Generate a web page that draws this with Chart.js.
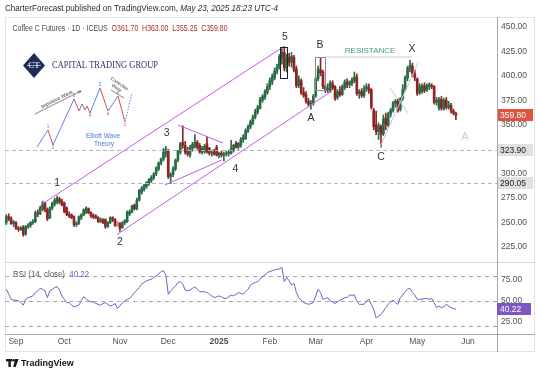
<!DOCTYPE html>
<html><head><meta charset="utf-8">
<script src="https://cdn.jsdelivr.net/npm/chart.js@4.4.1/dist/chart.umd.min.js"></script>
<style>
html,body{margin:0;padding:0;background:#fff;width:540px;height:373px;overflow:hidden}
#wrap{position:relative;width:540px;height:373px}
canvas{position:absolute;left:0;top:0}
</style></head><body>
<div id="wrap">
<canvas id="bg" width="540" height="373"></canvas>
<canvas id="price" width="540" height="373"></canvas>
<canvas id="rsi" width="540" height="373"></canvas>
</div>
<script>
// ---------- DATA (daily bars, index 0 = 3 Sep 2024) ----------
const firstIndex = -4;
const opens = [
250,256,254,249,250,244,243,245,238,246,
247,250,251,260,259,264,270,263,255,265,
269,271,274,272,270,265,258,258,256,248,
249,255,258,261,264,260,257,257,255,251,
253,253,246,250,255,253,250,249,245,250,
251,259,261,268,264,273,281,284,287,290,
293,296,300,305,311,315,321,324,297,299,
305,314,322,332,329,323,319,326,328,332,
329,322,323,331,326,321,322,327,319,321,
319,320,321,321,324,331,327,329,335,336,
344,348,352,358,363,367,375,378,383,389,
394,398,405,409,418,424,408,419,414,419,
407,391,395,383,381,374,371,372,380,397,
406,404,389,386,385,392,389,378,384,381,
388,393,391,392,395,399,382,384,380,387,
388,386,365,350,343,348,341,357,350,361,
365,372,375,366,377,386,398,408,410,402,
397,383,384,390,386,389,390,389,373,367,
376,367,375,368,370,364,361.70];
const highs = [
258,259,256,252,251,246,246,247,247,249,
251,253,262,263,267,272,271,265,266,271,
275,277,276,274,271,266,261,259,257,251,
257,259,264,266,265,261,259,258,256,255,
254,254,251,256,256,254,251,250,251,253,
262,263,268,269,275,284,287,289,292,295,
298,301,307,312,316,326,328,325,301,307,
315,324,332,349,333,327,329,332,340,334,
331,328,330,338,327,324,325,329,322,323,
322,323,324,334,330,333,332,337,340,346,
350,355,360,366,370,378,381,386,392,398,
402,408,412,422,428,430,422,423,424,421,
410,400,397,388,384,377,375,381,399,410,
419,406,391,392,395,395,390,386,389,391,
396,397,395,398,404,402,386,387,390,392,
392,387,367,364,352,350,360,362,363,367,
374,376,377,378,391,400,410,416,413,406,
398,392,392,393,392,393,392,390,378,378,
379,377,378,374,372,366,363.00];
const lows = [
248,252,248,246,243,241,242,236,237,244,
245,248,250,256,258,262,261,252,254,263,
267,269,269,267,260,257,255,254,246,246,
248,253,257,259,259,255,254,254,250,250,
249,244,245,249,251,246,246,241,244,248,
250,257,260,263,263,272,279,282,285,288,
291,294,298,303,309,313,317,295,290,297,
303,312,320,326,320,318,317,323,326,325,
321,320,321,321,319,318,319,318,316,317,
313,318,318,320,322,326,325,327,332,335,
342,346,350,356,361,366,373,376,381,386,
391,396,402,407,412,405,404,410,409,404,
388,388,381,378,372,369,366,370,378,395,
400,387,383,383,383,386,375,376,379,380,
386,388,388,390,393,380,377,378,378,384,
382,366,345,340,335,327,339,345,348,358,
363,368,363,364,375,384,395,404,399,395,
380,381,382,383,384,386,387,371,370,365,
365,365,366,366,362,360,355.25];
const closes = [
256,254,249,251,244,243,245,238,246,247,
250,251,260,259,265,270,263,254,265,270,
273,275,271,268,261,258,257,255,248,249,
256,258,263,265,260,257,256,255,251,253,
250,246,250,255,253,247,248,244,250,252,
261,261,267,264,273,283,285,288,291,294,
296,300,306,311,315,322,325,297,299,305,
314,323,331,329,322,320,327,330,332,327,
322,326,328,322,321,322,320,319,321,319,
320,321,322,326,329,327,331,335,337,344,
348,353,358,364,368,376,379,384,389,395,
399,405,409,420,424,408,419,414,420,406,
390,396,383,380,374,371,372,379,397,407,
403,389,385,387,393,388,377,384,381,389,
394,391,394,396,399,382,384,380,387,389,
385,368,348,343,349,340,356,350,361,365,
372,374,365,376,386,398,408,411,402,398,
382,389,390,385,390,391,389,373,375,376,
367,375,368,370,364,362,359.80];
const rsiValues = [
64,58,52,51,51,50,48,45,52,54,
55,56,60,62,65,64,62,54,62,64,
66,67,63,56,52,48,48,45,43,44,
45,50,55,53,50,49,49,47,46,45,
47,48,46,44,45,47,41,44,48,50,
52,53,56,60,63,66,70,72,74,75,
76,78,80,82,85,86,81,58,62,65,
68,72,73,70,63,62,63,65,67,64,
61,61,61,60,58,56,54,55,56,55,
53,53,55,57,56,58,60,59,58,61,
64,69,71,72,73,76,79,81,84,85,
86,87,88,88,90,73,78,74,69,71,
60,54,51,48,47,46,47,48,56,64,
60,52,53,54,50,49,47,49,51,52,
54,54,57,57,57,50,46,46,46,50,
52,46,40,30,32,34,38,42,46,49,
51,48,46,54,57,61,64,65,60,57,
52,52,52,53,53,52,53,48,42,44,
42,43,46,44,42,41,40.22];

const monthIdx    = [0, 20, 43, 63, 84, 105, 124, 145, 166, 187];
const monthLabels = ['Sep','Oct','Nov','Dec','2025','Feb','Mar','Apr','May','Jun'];
const priceTicks  = [225,250,275,300,325,350,375,400,425,450];
const rsiTicks    = [25,50,75];
const rsiBands    = [80,50,20];
const priceLevels = [323.90, 290.05];
const lastClose   = 359.80;
const lastRsi     = 40.22;

// wave labels [text, barIndex, price]
const waveText  = ['1','2','3','4','5','A','B','X','C','A'];
const waveIndex = [17.0, 43.0, 62.3, 90.8, 111.3, 122.1, 125.8, 163.8, 151.0, 185.8];
const wavePrice = [290.5, 230.5, 341.9, 304.5, 439.3, 357.0, 431.1, 427.0, 317.1, 337.5];
// trend lines [i1, p1, i2, p2]
const purpleLines = [
  [10.5, 268.5, 110.5, 429.6],
  [41.8, 237.8, 130.7, 384.6],
  [67.0, 349.8, 85.6, 331.4],
  [61.6, 288.4, 85.2, 314.0]
];
const greyLines = [
  [127.8, 419.3, 163.6, 419.3],
  [154.7, 387.5, 162.2, 362.0],
  [150.6, 327.3, 166.3, 413.2]
];
const boxes = [ // [i1, p1, i2, p2]
  [109.2, 429.6, 112.2, 397.9],
  [123.7, 419.3, 127.8, 385.6]
];

// ---------- helpers ----------
const FONT = '"Liberation Sans", Arial, sans-serif';
Chart.defaults.font.family = FONT;
const xMin = -4.55, xMax = 199.0;
const barIdx = closes.map((_, k) => firstIndex + k);

function candleColor(k) {
  const up = closes[k] >= opens[k];
  const prev = k > 0 ? closes[k - 1] : opens[k];
  if (up) return closes[k] >= prev ? '#276b47' : '#86c29e';
  return closes[k] < prev ? '#8e2424' : '#e8806d';
}
const bodyColors = closes.map((_, k) => candleColor(k));

function fitText(ctx, parts, x, y, width) {
  let total = 0;
  parts.forEach(p => { ctx.font = p.font; p.w = ctx.measureText(p.t).width; total += p.w; });
  const f = width / total;
  ctx.save(); ctx.translate(x, y); ctx.scale(f, 1);
  ctx.textBaseline = 'middle'; ctx.textAlign = 'left';
  let cx = 0;
  parts.forEach(p => { ctx.font = p.font; ctx.fillStyle = p.c; ctx.fillText(p.t, cx, 0); cx += p.w; });
  ctx.restore();
}

function axisBox(ctx, yPix, label, bg, fg) {
  ctx.fillStyle = bg;
  ctx.fillRect(497, Math.round(yPix) - 6, 36, 12);
  ctx.fillStyle = fg; ctx.font = '8.5px ' + FONT;
  ctx.textAlign = 'left'; ctx.textBaseline = 'middle';
  ctx.fillText(label, 500, Math.round(yPix) + 0.5);
}

// ---------- background canvas ----------
(function () {
  const c = document.getElementById('bg').getContext('2d');
  c.fillStyle = '#fff'; c.fillRect(0, 0, 540, 373);
  c.strokeStyle = '#e0e3eb'; c.lineWidth = 1;
  c.strokeRect(5.5, 17.5, 529, 334);
  fitText(c, [
    {t: 'CharterForecast published on TradingView.com, ', font: '8.5px ' + FONT, c: '#2a2a2a'},
    {t: 'May 23, 2025 18:23 UTC-4', font: 'italic 8.5px ' + FONT, c: '#2a2a2a'}
  ], 5, 9, 273);
  // TradingView logo
  c.fillStyle = '#131722';
  c.fillRect(6, 359, 6, 2.4); c.fillRect(8.4, 359, 2.4, 8);
  c.beginPath(); c.arc(13.6, 360.3, 1.3, 0, Math.PI * 2); c.fill();
  c.beginPath(); c.moveTo(15.2, 359); c.lineTo(18.6, 359); c.lineTo(15.6, 367); c.lineTo(13.2, 367); c.closePath(); c.fill();
  c.font = 'bold 9px ' + FONT; c.textBaseline = 'middle'; c.textAlign = 'left';
  c.fillText('TradingView', 21, 363.5);
})();

// ---------- price chart ----------
const priceDecor = {
  id: 'priceDecor',
  afterDatasetsDraw(chart) {
    const {ctx, scales: {x, y}, chartArea: a} = chart;
    const px = i => x.getPixelForValue(i), py = p => y.getPixelForValue(p);
    ctx.save();
    ctx.beginPath(); ctx.rect(a.left, a.top, a.right - a.left, a.bottom - a.top); ctx.clip();
    ctx.strokeStyle = '#b4b7bd'; ctx.lineWidth = 1; ctx.setLineDash([4, 3]);
    priceLevels.forEach(v => {
      const yy = Math.round(py(v)) + 0.5;
      ctx.beginPath(); ctx.moveTo(a.left, yy); ctx.lineTo(a.right, yy); ctx.stroke();
    });
    ctx.setLineDash([]);
    ctx.strokeStyle = '#c45be6'; ctx.lineWidth = 1;
    purpleLines.forEach(l => {
      ctx.beginPath(); ctx.moveTo(px(l[0]), py(l[1])); ctx.lineTo(px(l[2]), py(l[3])); ctx.stroke();
    });
    ctx.strokeStyle = '#c9c9c9';
    greyLines.forEach(l => {
      ctx.beginPath(); ctx.moveTo(px(l[0]), py(l[1])); ctx.lineTo(px(l[2]), py(l[3])); ctx.stroke();
    });
    ['#222', '#8a8a8a'].forEach((col, k) => {
      const b = boxes[k];
      ctx.strokeStyle = col;
      ctx.strokeRect(Math.round(px(b[0])) + 0.5, Math.round(py(b[1])) + 0.5,
        Math.round(px(b[2]) - px(b[0])), Math.round(py(b[3]) - py(b[1])));
    });
    ctx.restore();

    // wave labels
    ctx.save();
    ctx.textAlign = 'center'; ctx.textBaseline = 'middle';
    waveText.forEach((t, k) => {
      ctx.font = '10.5px ' + FONT;
      ctx.fillStyle = k === waveText.length - 1 ? '#cfcfcf' : '#333';
      ctx.fillText(t, px(waveIndex[k]), py(wavePrice[k]));
    });
    ctx.font = '8px ' + FONT; ctx.fillStyle = '#3c9a80';
    ctx.fillText('RESISTANCE', px(146.5), py(425.3));
    ctx.restore();

    // legend
    fitText(ctx, [
      {t: 'Coffee C Futures · 1D · ICEUS  ', font: '8.5px ' + FONT, c: '#4a4a4a'},
      {t: 'O' + opens[opens.length-1].toFixed(2) + '  H' + highs[highs.length-1].toFixed(2) +
          '  L' + lows[lows.length-1].toFixed(2) + '  C' + closes[closes.length-1].toFixed(2),
       font: '8.5px ' + FONT, c: '#a8302c'}
    ], 12.5, 28.5, 215);

    // axis value boxes
    ctx.save();
    axisBox(ctx, py(lastClose), lastClose.toFixed(2), '#e0533f', '#fff');
    priceLevels.forEach(v => axisBox(ctx, py(v), v.toFixed(2), '#e0e0e0', '#1a1a1a'));
    ctx.restore();

    drawLogo(ctx);
  }
};

function drawLogo(ctx) {
  ctx.save();
  // diamond
  ctx.fillStyle = '#1f2c5a';
  ctx.beginPath(); ctx.moveTo(34, 53); ctx.lineTo(45, 65.5); ctx.lineTo(34, 78); ctx.lineTo(23, 65.5); ctx.closePath(); ctx.fill();
  ctx.fillStyle = '#fff'; ctx.font = '9px "Liberation Serif", serif';
  ctx.textAlign = 'center'; ctx.textBaseline = 'middle';
  ctx.fillText('CT', 34, 66);
  ctx.strokeStyle = '#fff'; ctx.lineWidth = 0.6;
  ctx.beginPath(); ctx.moveTo(27, 65.5); ctx.lineTo(41, 65.5); ctx.stroke();
  fitText(ctx, [{t: 'CAPITAL TRADING GROUP', font: '9.5px "Liberation Serif", serif', c: '#2b3766'}], 52, 65, 106);

  // mini Elliott wave diagram
  const blue = '#5b86e5', red = '#e8474a';
  const segs = [
    [blue, 37,147, 48,130], [red, 48,130, 53,145], [blue, 53,145, 74,99],
    [red, 74,99, 79,111], [blue, 79,111, 82,104], [red, 82,104, 85,110],
    [blue, 85,110, 87,106], [red, 87,106, 90,113], [blue, 90,113, 100,88],
    [red, 100,88, 108,111], [blue, 108,111, 118,96], [red, 118,96, 125,122]
  ];
  ctx.lineWidth = 1;
  segs.forEach(s => { ctx.strokeStyle = s[0]; ctx.beginPath(); ctx.moveTo(s[1], s[2]); ctx.lineTo(s[3], s[4]); ctx.stroke(); });
  ctx.setLineDash([1.5, 1.5]); ctx.strokeStyle = blue;
  ctx.beginPath(); ctx.moveTo(125, 122); ctx.lineTo(132, 93); ctx.stroke(); ctx.setLineDash([]);
  ctx.font = '4.5px ' + FONT;
  [['1',48,127,blue],['2',53,148,red],['3',74,96,blue],['4',90,116,red],['5',100,85,blue],
   ['a',108,114,red],['b',118,93,blue],['c',125,125,red]].forEach(t => { ctx.fillStyle = t[3]; ctx.fillText(t[0], t[1], t[2]); });
  // impulsive arrow
  ctx.strokeStyle = '#333'; ctx.lineWidth = 0.6;
  ctx.beginPath(); ctx.moveTo(35, 114); ctx.lineTo(81, 91); ctx.stroke();
  ctx.beginPath(); ctx.moveTo(81, 91); ctx.lineTo(77.5, 91.2); ctx.moveTo(81, 91); ctx.lineTo(79, 93.7); ctx.stroke();
  ctx.save(); ctx.translate(57, 99.5); ctx.rotate(-0.46);
  ctx.fillStyle = '#333'; ctx.font = '5px ' + FONT; ctx.fillText('Impulsive Wave', 0, 0); ctx.restore();
  // corrective arrow
  ctx.beginPath(); ctx.moveTo(111, 90); ctx.lineTo(124, 98); ctx.stroke();
  ctx.save(); ctx.translate(118, 86); ctx.rotate(0.6);
  ctx.fillStyle = '#333'; ctx.font = '4.5px ' + FONT; ctx.fillText('Corrective', 0, -2.5); ctx.fillText('Wave', 0, 2.5); ctx.restore();
  ctx.fillStyle = '#4a78dc'; ctx.font = '6.5px ' + FONT;
  ctx.fillText('Elliott Wave', 103, 136); ctx.fillText('Theory', 104, 144);
  ctx.restore();
}

new Chart(document.getElementById('price'), {
  type: 'bar',
  data: {
    datasets: [
      {data: barIdx.map((i, k) => ({x: i, y: [lows[k], highs[k]]})), backgroundColor: bodyColors,
       barThickness: 1, grouped: false, order: 2},
      {data: barIdx.map((i, k) => ({x: i, y: [opens[k], closes[k]]})), backgroundColor: bodyColors,
       barThickness: 2, minBarLength: 1, grouped: false, order: 1}
    ]
  },
  options: {
    responsive: false, animation: false, devicePixelRatio: 1,
    layout: {padding: {left: 5, top: 18, right: 3, bottom: 111}},
    plugins: {legend: {display: false}, tooltip: {enabled: false}},
    scales: {
      x: {type: 'linear', min: xMin, max: xMax, offset: false, display: false},
      y: {position: 'right', min: 209.7, max: 459.2,
          afterFit(s) { s.width = 40; },
          afterBuildTicks(s) { s.ticks = priceTicks.map(v => ({value: v})); },
          grid: {display: false, drawTicks: false}, border: {display: false},
          ticks: {padding: 4, color: '#505050', font: {size: 8.5}, callback: v => Number(v).toFixed(2)}}
    }
  },
  plugins: [priceDecor]
});

// ---------- RSI chart ----------
const rsiDecor = {
  id: 'rsiDecor',
  beforeDatasetsDraw(chart) {
    const {ctx, scales: {y}, chartArea: a} = chart;
    ctx.save();
    ctx.strokeStyle = '#a3a6ad'; ctx.lineWidth = 1; ctx.setLineDash([4, 4]);
    rsiBands.forEach(v => {
      const yy = Math.round(y.getPixelForValue(v)) + 0.5;
      ctx.beginPath(); ctx.moveTo(a.left, yy); ctx.lineTo(a.right, yy); ctx.stroke();
    });
    ctx.restore();
  },
  afterDraw(chart) {
    const {ctx, scales: {y}, chartArea: a} = chart;
    ctx.save();
    ctx.strokeStyle = '#d6d8de'; ctx.lineWidth = 1;
    ctx.beginPath(); ctx.moveTo(5, 262.5); ctx.lineTo(535, 262.5); ctx.stroke();
    ctx.strokeStyle = '#a5a8ae';
    ctx.beginPath(); ctx.moveTo(5, a.bottom + 0.5); ctx.lineTo(535, a.bottom + 0.5); ctx.stroke();
    ctx.beginPath(); ctx.moveTo(497.5, 17); ctx.lineTo(497.5, 352); ctx.stroke();
    fitText(ctx, [
      {t: 'RSI (14, close)  ', font: '8.5px ' + FONT, c: '#555'},
      {t: lastRsi.toFixed(2), font: '8.5px ' + FONT, c: '#7e57c2'}
    ], 13, 274.5, 76);
    ctx.fillStyle = '#7e57c2';
    const yy = Math.round(y.getPixelForValue(lastRsi));
    ctx.fillRect(497, yy - 6, 34, 12);
    ctx.fillStyle = '#fff'; ctx.font = '8.5px ' + FONT; ctx.textBaseline = 'middle'; ctx.textAlign = 'left';
    ctx.fillText(lastRsi.toFixed(2), 500, yy + 0.5);
    ctx.restore();
  }
};

new Chart(document.getElementById('rsi'), {
  type: 'line',
  data: {
    datasets: [{data: barIdx.map((i, k) => ({x: i, y: rsiValues[k]})), borderColor: '#7e57c2',
      borderWidth: 1, pointRadius: 0, tension: 0, fill: false}]
  },
  options: {
    responsive: false, animation: false, devicePixelRatio: 1,
    layout: {padding: {left: 5, top: 263, right: 3, bottom: 21}},
    plugins: {legend: {display: false}, tooltip: {enabled: false}},
    scales: {
      x: {type: 'linear', min: xMin, max: xMax, offset: false,
          afterFit(s) { s.height = 18; },
          afterBuildTicks(s) { s.ticks = monthIdx.map(v => ({value: v})); },
          grid: {display: false, drawTicks: false}, border: {display: false},
          ticks: {autoSkip: false, maxRotation: 0, padding: 3, color: '#505050',
                  font: c => ({size: 8.5, weight: (c.tick && c.tick.label === '2025') ? 'bold' : 'normal'}),
                  callback: (v, i) => monthLabels[i]}},
      y: {position: 'right', min: 10.7, max: 95.2,
          afterFit(s) { s.width = 40; },
          afterBuildTicks(s) { s.ticks = rsiTicks.map(v => ({value: v})); },
          grid: {display: false, drawTicks: false}, border: {display: false},
          ticks: {padding: 4, color: '#505050', font: {size: 8.5}, callback: v => Number(v).toFixed(2)}}
    }
  },
  plugins: [rsiDecor]
});
</script>
</body></html>
